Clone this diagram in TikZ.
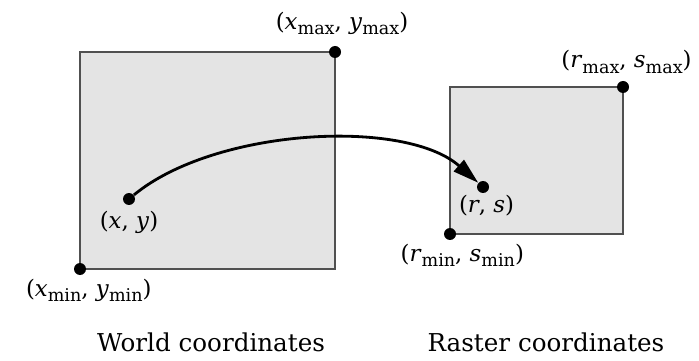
\documentclass[tikz,border=0pt]{standalone}
\usepackage{fontspec}
\setmainfont{DejaVu Serif}
\usetikzlibrary{arrows.meta,positioning}
\definecolor{boxfill}{HTML}{E4E4E4}
\definecolor{boxline}{HTML}{505050}
\newcommand{\lo}[1]{\raisebox{-0.45ex}{\fontsize{10}{11}\selectfont #1}}

\begin{document}
\begin{tikzpicture}[x=0.02cm, y=-0.02cm,
  area/.style={draw=boxline, fill=boxfill, line width=1.1pt},
  dot/.style={circle, fill=black, inner sep=0pt, minimum size=0.24cm},
  lab/.style={font=\fontsize{13}{15}\selectfont, inner sep=1pt},
  title/.style={font=\fontsize{14}{17}\selectfont},
]
\useasboundingbox (0,0) rectangle (699,361);
% world window and raster viewport
\draw[area] (80,52) rectangle (335,269);
\draw[area] (450,87) rectangle (623,234);
% corner and point markers
\node[dot] (wmin) at (80,269) {};
\node[dot] (wmax) at (335,52) {};
\node[dot] (wpt) at (129,199) {};
\node[dot] (rmin) at (450,234) {};
\node[dot] (rmax) at (623,87) {};
\node[dot] (rpt) at (483,187) {};
% labels
\node[lab, below=1pt of wmin, xshift=5pt] {(\textit{x}\lo{min}, \textit{y}\lo{min})};
\node[lab, above=5pt of wmax, xshift=4pt] {(\textit{x}\lo{max}, \textit{y}\lo{max})};
\node[lab, below=2pt of wpt] {(\textit{x}, \textit{y})};
\node[lab, below=1pt of rmin, xshift=7pt] {(\textit{r}\lo{min}, \textit{s}\lo{min})};
\node[lab, above=3pt of rmax, xshift=2pt] {(\textit{r}\lo{max}, \textit{s}\lo{max})};
\node[lab, below=0pt of rpt, xshift=2pt] {(\textit{r}, \textit{s})};
% mapping
\draw[line width=1.6pt, -{Triangle[length=0.52cm, width=0.3cm]}]
  (wpt) .. controls (215,128) and (405,118) .. (rpt);
% captions
\node[title] (wcap) at (211,342) {World coordinates};
\node[title] (rcap) at (546,342) {Raster coordinates};
\end{tikzpicture}
\end{document}
